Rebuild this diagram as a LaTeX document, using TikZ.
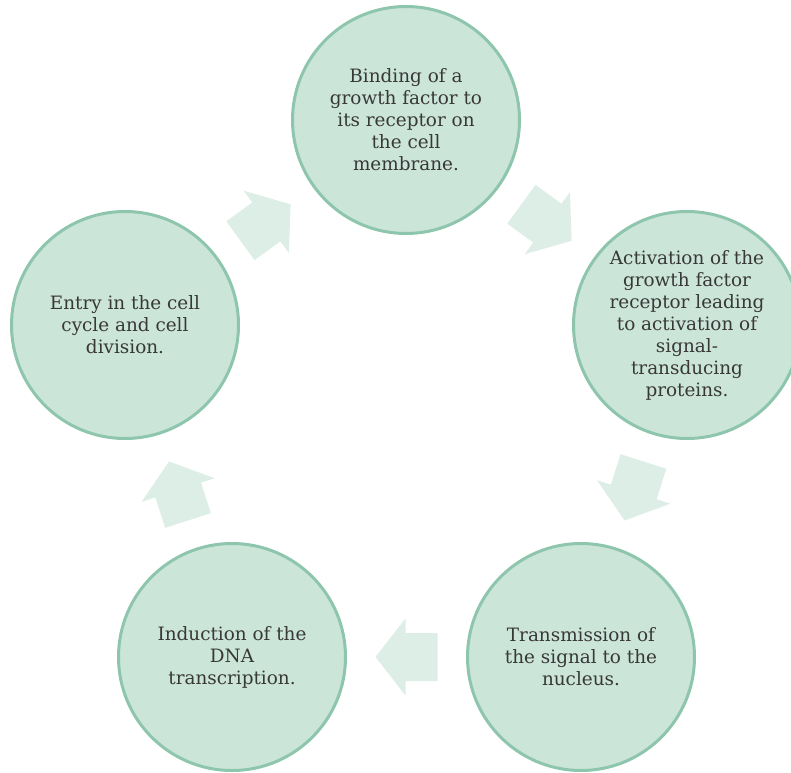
\documentclass[tikz,border=0pt]{standalone}
\usepackage{fontspec}
\setmainfont{DejaVu Serif}
\usetikzlibrary{calc}
\definecolor{cellfill}{HTML}{CCE5D9}
\definecolor{celledge}{HTML}{8EC5AD}
\definecolor{arrowfill}{HTML}{DDEEE6}
\definecolor{celltext}{HTML}{383838}
\tikzset{
  stage/.style={circle, fill=cellfill, draw=celledge, line width=3pt,
    minimum size=227pt, inner sep=0pt, text=celltext, align=center,
    font=\fontsize{18.4}{22}\selectfont},
  blockarrow/.pic={
    \fill[arrowfill] (-31,-24) -- (1,-24) -- (1,-38.5) -- (31,0)
      -- (1,38.5) -- (1,24) -- (-31,24) -- cycle;
  }
}
\begin{document}
\begin{tikzpicture}[x=1pt,y=1pt]
\useasboundingbox (0,0) rectangle (791,772);
\node[stage] (top) at (406,652) {Binding of a\\growth factor to\\its receptor on\\the cell\\membrane.};
\node[stage] (right) at (687,447) {Activation of the\\growth factor\\receptor leading\\to activation of\\signal-\\transducing\\proteins.};
\node[stage] (bright) at (581,115) {Transmission of\\the signal to the\\nucleus.};
\node[stage] (bleft) at (232,115) {Induction of the\\DNA\\transcription.};
\node[stage] (left) at (125,447) {Entry in the cell\\cycle and cell\\division.};
\pic[rotate=36] at ($(left)!0.5!(top)$) {blockarrow};
\pic[rotate=-36] at ($(top)!0.5!(right)$) {blockarrow};
\pic[rotate=-107.7] at ($(right)!0.5!(bright)$) {blockarrow};
\pic[rotate=180] at ($(bright)!0.5!(bleft)$) {blockarrow};
\pic[rotate=107.9] at ($(bleft)!0.5!(left)$) {blockarrow};
\end{tikzpicture}
\end{document}
